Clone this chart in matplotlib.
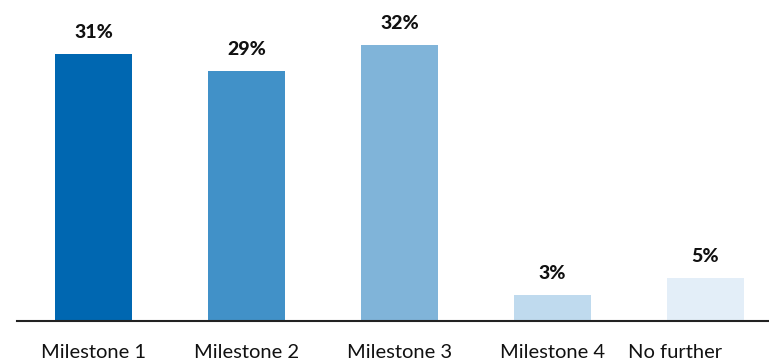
import matplotlib
matplotlib.use("Agg")
import matplotlib.pyplot as plt
import matplotlib.transforms as mtransforms

categories = ["Milestone 1", "Milestone 2", "Milestone 3", "Milestone 4", "No further"]
values = [31, 29, 32, 3, 5]
colors = ["#0067B1", "#4191C8", "#80B4D9", "#BFDAEE", "#E3EEF8"]

plt.rcParams["font.family"] = ["Lato", "DejaVu Sans"]

W, H = 769, 361
fig = plt.figure(figsize=(W / 100, H / 100), dpi=100)
# axes spans x 17..782 px and baseline at y=321 px
ax = fig.add_axes([17 / W, 40 / H, 765 / W, 301 / H])

x = list(range(len(categories)))
ax.bar(x, values, width=0.503, color=colors, zorder=2)

ax.set_xlim(-0.5, len(categories) - 0.5)
ax.set_ylim(0, 301 / 8.614)

for xi, v in zip(x, values):
    ax.annotate(f"{v}%", (xi, v), xytext=(0, 11.5), textcoords="offset points",
                ha="center", va="baseline", fontsize=14, fontweight="black",
                color="#111111")

for s in ["top", "right", "left"]:
    ax.spines[s].set_visible(False)
ax.spines["bottom"].set_color("#222222")
ax.spines["bottom"].set_linewidth(1.5)
ax.set_yticks([])
ax.set_xticks(x)
ax.set_xticklabels(categories, fontsize=14.5, color="#111111", va="top")
ax.tick_params(axis="x", length=0, pad=16.5)

# the last label sits left of its bar centre
last = ax.get_xticklabels()[-1]
last.set_transform(last.get_transform() + mtransforms.ScaledTranslation(-30 / 100, 0, fig.dpi_scale_trans))

fig.savefig("out.png", dpi=100)
